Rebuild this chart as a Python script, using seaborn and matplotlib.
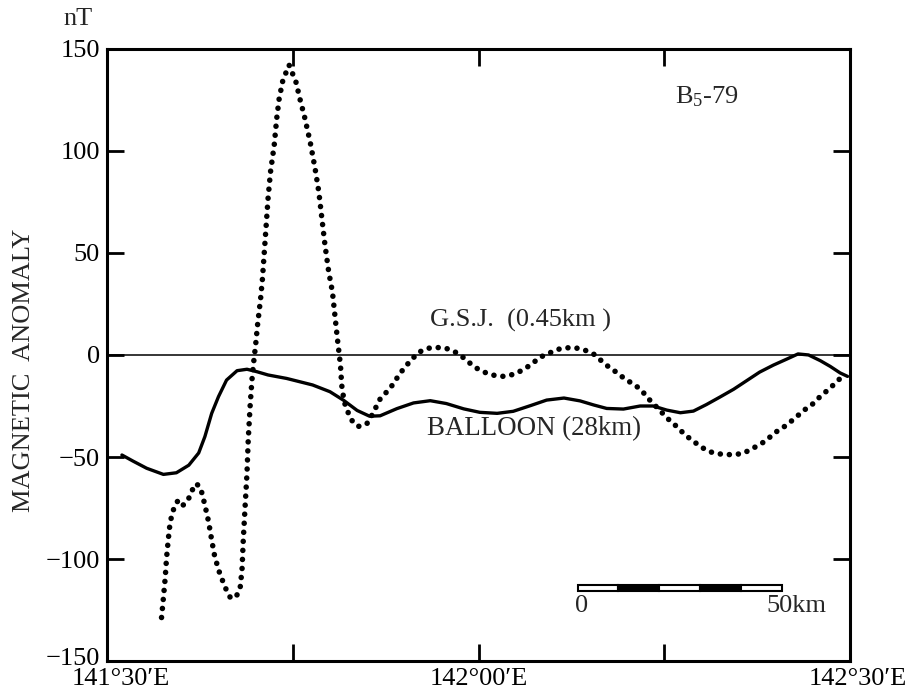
import numpy as np
import pandas as pd
import matplotlib
matplotlib.use("Agg")
import matplotlib.pyplot as plt
from matplotlib.patches import Rectangle
from matplotlib.transforms import ScaledTranslation
import seaborn as sns

# longitude in minutes east of 141°30'E
balloon_x = [1.2, 2.1, 3.2, 4.55, 5.6, 6.6, 7.4, 7.9, 8.45, 9.0, 9.65, 10.5, 11.3, 12.1,
             13.0, 14.5, 16.6, 18.0, 19.1, 20.2, 21.2, 22.05, 23.4, 24.75, 26.1, 27.4,
             28.8, 30.1, 31.5, 32.8, 34.2, 35.5, 36.9, 38.2, 39.3, 40.35, 41.7, 43.05,
             44.1, 45.2, 46.3, 47.35, 48.4, 49.5, 50.6, 51.7, 52.7, 53.8, 54.9, 55.8,
             56.65, 57.6, 58.4, 59.2, 59.8]
balloon_y = [-49, -52, -55.5, -58.5, -57.7, -54, -48, -40, -28.6, -20.4, -12.3, -7.7, -7.0, -8.2,
             -9.8, -11.5, -14.7, -18, -22.2, -27.2, -30, -29.8, -26.3, -23.5, -22.4, -23.8,
             -26.4, -28.1, -28.6, -27.6, -24.8, -22.1, -21.1, -22.5, -24.5, -26.2, -26.5, -25,
             -25, -27, -28.3, -27.5, -24.3, -20.6, -16.8, -12.4, -8.4, -5.0, -2.0, 0.5,
             0.0, -2.8, -5.6, -8.8, -10.5]

gsj_x = [4.4, 4.55, 4.7, 4.8, 4.95, 5.1, 5.4, 5.75, 6.15, 6.55, 6.8, 7.2, 7.55, 7.9, 8.2,
         8.45, 8.7, 9.1, 9.55, 9.95, 10.4, 10.75, 10.9, 11.0, 11.15, 11.3, 11.4, 11.55,
         11.7, 11.85, 12.0, 12.15, 12.4, 12.55, 12.7, 12.85, 13.0, 13.2, 13.5, 13.7, 13.9,
         14.2, 14.7, 15.25, 15.6, 15.95, 16.4, 16.8, 17.1, 17.35, 17.6, 17.9, 18.2, 18.4,
         18.6, 18.85, 18.95, 19.15, 19.5, 19.85, 20.3, 20.97, 21.4, 22.05, 22.9, 23.7,
         24.35, 25.15, 25.95, 26.6, 27.4, 28.1, 28.8, 29.3, 29.95, 30.65, 31.45, 32.1,
         32.95, 33.6, 34.3, 34.9, 35.65, 36.3, 37.0, 37.8, 38.5, 39.3, 39.95, 40.5, 41.0,
         41.6, 42.1, 42.65, 43.2, 43.7, 44.7, 45.2, 45.75, 46.3, 46.8, 47.35, 48.0, 48.55,
         49.25, 49.9, 50.6, 51.3, 51.9, 52.6, 53.3, 53.8, 54.5, 55.2, 55.7, 56.2, 56.9,
         57.5, 58.2, 58.8, 59.35]
gsj_y = [-128.6, -119, -109, -99.7, -90, -81.7, -75, -71, -73.5, -71, -67, -63, -65, -73.5, -81.7,
         -90.7, -98.9, -107, -114, -118.8, -118.8, -114, -105, -90.7, -74, -58, -41.7, -25.3,
         -12.3, -3, 5, 14.5, 27.6, 37.4, 50.5, 63.5, 76.6, 89.7, 102.8, 115.8, 125.6,
         134.6, 142, 133.8, 124.8, 116.6, 104.4, 91.3, 79.9, 66.8, 53.8, 40.7, 30.9, 19.4,
         8, -5, -14.8, -23, -28.7, -32.9, -35, -33.8, -29.4, -21.6, -16, -8.7,
         -3.9, 1.3, 3.3, 3.7, 3.2, 1.5, -1.4, -4, -6.9, -8.9, -10.3, -10.5,
         -9.3, -7.2, -4.5, -1.3, 0.7, 2.6, 3.5, 3.5, 2.6, 0.4, -3, -5.8, -7.9,
         -10.7, -12.8, -14.8, -17.6, -21.3, -27.5, -30.8, -33.6, -36.9, -39.7, -42.3, -45.1, -47.2,
         -48.3, -48.8, -48.8, -48.3, -46.6, -44.2, -41.7, -38.5, -36, -32.7, -30.2, -27.4, -24.5,
         -20.9, -17.2, -13.9, -10.6]

x_ticks = [0, 15, 30, 45, 60]
x_ticklabels = ["141°30′E", "", "142°00′E", "", "142°30′E"]
y_ticks = [-150, -100, -50, 0, 50, 100, 150]
y_ticklabels = ["−150", "−100", "−50", "0", "50", "100", "150"]

sns.set_style("ticks")
plt.rcParams["font.family"] = ["Liberation Serif", "DejaVu Serif"]
plt.rcParams["mathtext.fontset"] = "custom"
plt.rcParams["mathtext.rm"] = "Liberation Serif"
plt.rcParams["mathtext.it"] = "Liberation Serif"

fig = plt.figure(figsize=(9.15, 6.96), dpi=100)
ax = fig.add_axes([0.117, 0.050, 0.812, 0.880])

df_b = pd.DataFrame({"lon": balloon_x, "val": balloon_y})
df_g = pd.DataFrame({"lon": gsj_x, "val": gsj_y})

ax.axhline(0, color="black", lw=1.1, zorder=1)
sns.lineplot(data=df_b, x="lon", y="val", ax=ax, color="black", lw=2.4,
             estimator=None, sort=False, zorder=3)
sns.lineplot(data=df_g, x="lon", y="val", ax=ax, color="black", lw=4.0,
             estimator=None, sort=False, dashes=False, zorder=3,
             linestyle=(0, (0.01, 1.62)), dash_capstyle="round")

ax.set_xlim(0, 60)
ax.set_ylim(-150, 150)
ax.set_xticks(x_ticks)
ax.set_xticklabels(x_ticklabels)
ax.set_yticks(y_ticks)
ax.set_yticklabels(y_ticklabels)
ax.set_xlabel("")
ax.set_ylabel("")
for s in ax.spines.values():
    s.set_visible(True)
    s.set_linewidth(2.2)
    s.set_color("black")
ax.tick_params(axis="both", which="both", direction="in", length=12, width=2,
               top=True, right=True, labelsize=19, colors="black", pad=5)

# nudge end labels like the reference
xl = ax.get_xticklabels()
xl[0].set_transform(xl[0].get_transform() + ScaledTranslation(14 / 100, 0, fig.dpi_scale_trans))
xl[-1].set_transform(xl[-1].get_transform() + ScaledTranslation(8 / 100, 0, fig.dpi_scale_trans))
yl = ax.get_yticklabels()
yl[0].set_transform(yl[0].get_transform() + ScaledTranslation(0, 5 / 100, fig.dpi_scale_trans))

# annotations
ax.text(26.1, 17, "G.S.J.  (0.45km )", fontsize=19, va="center", ha="left")
ax.text(25.8, -36, "BALLOON (28km)", fontsize=19.4, va="center", ha="left")
ax.text(45.9, 126.5, r"B$_5$-79", fontsize=19, va="center", ha="left")

# scale bar
sb_x0, sb_x1, sb_y, sb_h = 38.0, 54.5, -114, 2.8
seg = (sb_x1 - sb_x0) / 5
for i in range(5):
    ax.add_patch(Rectangle((sb_x0 + i * seg, sb_y - sb_h / 2), seg, sb_h,
                           facecolor="white" if i % 2 == 0 else "black",
                           edgecolor="black", lw=1.5, zorder=4))
ax.text(38.3, -123, "0", fontsize=19, ha="center", va="center")
ax.text(55.7, -123, "50km", fontsize=19, ha="center", va="center")

fig.text(78 / 915, 1 - 19 / 696, "nT", fontsize=19, ha="center", va="center")
fig.text(24 / 915, 1 - 370 / 696, "MAGNETIC  ANOMALY", fontsize=19, rotation=90,
         ha="center", va="center")

fig.savefig("out.png", dpi=100)
